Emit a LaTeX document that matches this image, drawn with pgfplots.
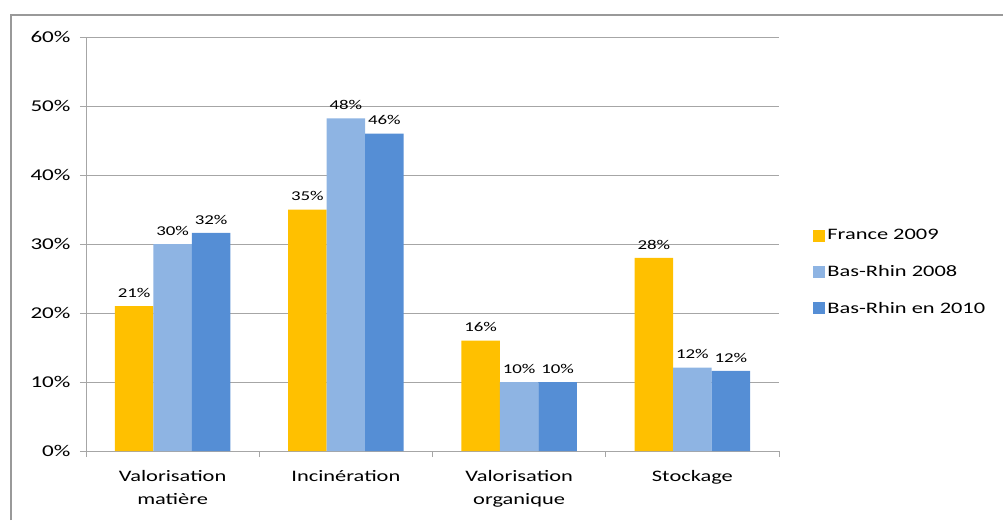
\documentclass[border=0pt]{standalone}
\usepackage{fontspec}
\setmainfont{Carlito}[FakeStretch=1.4]
\usepackage{pgfplots}
\pgfplotsset{compat=1.18}
\definecolor{cyellow}{HTML}{FFC000}
\definecolor{clight}{HTML}{8EB4E3}
\definecolor{cblue}{HTML}{558ED5}
\begin{document}
\begin{tikzpicture}[x=1pt,y=1pt]
\useasboundingbox (0,0) rectangle (1003,520);
\draw[gray!80, line width=1.5pt] (11,0) -- (11,505) -- (1003,505);
\begin{axis}[
    at={(86pt,69pt)}, anchor=south west,
    scale only axis, width=693pt, height=414pt,
    ybar=0pt, bar width=38.5pt,
    xmin=-0.5, xmax=3.5, ymin=0, ymax=60,
    xtick={-0.5,0.5,1.5,2.5,3.5},
    x tick label as interval,
    xticklabels={{Valorisation\\matière}, Incinération, {Valorisation\\organique}, Stockage},
    xticklabel style={align=center, font=\fontsize{16}{23}\selectfont, yshift=-10pt},
    ytick={0,10,...,60},
    yticklabels={0\%,10\%,20\%,30\%,40\%,50\%,60\%},
    yticklabel style={font=\fontsize{16.5}{19}\selectfont, xshift=-6pt},
    tick align=outside, major tick length=6pt,
    tick style={gray!70, line width=0.8pt},
    ymajorgrids, major grid style={gray!70, line width=0.8pt},
    axis x line*=bottom, axis y line*=left,
    axis line style={gray!70, line width=0.8pt},
    /pgf/number format/assume math mode=true,
    nodes near coords={\pgfmathprintnumber[fixed,precision=0]{\pgfplotspointmeta}\%},
    every node near coord/.append style={text=black, font=\fontsize{13.5}{15}\selectfont, yshift=5pt},
    legend style={draw=none, at={(1.045,0.545)}, anchor=north west,
        font=\fontsize{16}{19}\selectfont, row sep=20pt},
    legend cell align=left,
    legend image code/.code={\draw[#1,draw=none] (0pt,-6pt) rectangle (12pt,6pt);},
]
\addplot[fill=cyellow, draw=none] coordinates {(0,21) (1,35) (2,16) (3,28)};
\addplot[fill=clight, draw=none] coordinates {(0,30) (1,48.2) (2,10) (3,12.1)};
\addplot[fill=cblue, draw=none] coordinates {(0,31.6) (1,46) (2,10) (3,11.6)};
\legend{France 2009, Bas-Rhin 2008, Bas-Rhin en 2010}
\end{axis}
\end{tikzpicture}
\end{document}
